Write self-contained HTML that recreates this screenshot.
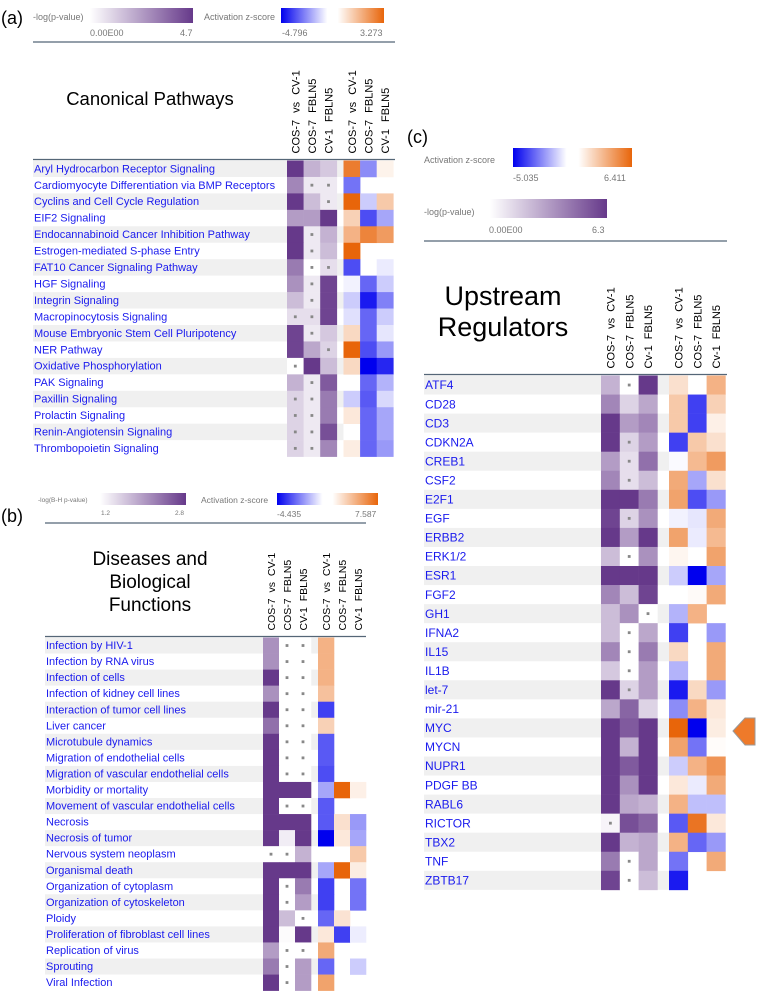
<!DOCTYPE html>
<html><head><meta charset="utf-8"><style>
html,body{margin:0;padding:0;background:#fff;}
svg{display:block;font-family:"Liberation Sans",sans-serif;}
</style></head><body>
<svg id="fig" width="760" height="992" viewBox="0 0 760 992" xmlns="http://www.w3.org/2000/svg">
<defs>
<linearGradient id="gp" x1="0" x2="1"><stop offset="0" stop-color="#fff"/><stop offset="1" stop-color="#66398a"/></linearGradient>
<linearGradient id="gz" x1="0" x2="1"><stop offset="0" stop-color="#0000ee"/><stop offset="0.45" stop-color="#fff"/><stop offset="0.55" stop-color="#fff"/><stop offset="1" stop-color="#e8650a"/></linearGradient>
</defs>
<text x="1" y="24" font-size="18">(a)</text>
<text x="1" y="522" font-size="18">(b)</text>
<text x="407" y="143" font-size="18">(c)</text>

<g font-size="9" fill="#777">
<text x="33" y="20">-log(p-value)</text>
<rect x="90" y="8" width="103" height="15" fill="url(#gp)"/>
<text x="90" y="36">0.00E00</text><text x="180" y="36">4.7</text>
<text x="204" y="20">Activation z-score</text>
<rect x="281" y="8" width="103" height="15" fill="url(#gz)"/>
<text x="282" y="36">-4.796</text><text x="360" y="36">3.273</text>
<line x1="33" y1="42" x2="395" y2="42" stroke="#556677" stroke-width="1.2"/>
</g>
<text x="150" y="105" font-size="18.5" text-anchor="middle">Canonical Pathways</text>

<g font-size="6.5" fill="#777">
<text x="38" y="502">-log(B-H p-value)</text>
<rect x="100" y="493" width="86" height="12" fill="url(#gp)"/>
<text x="101" y="515">1.2</text><text x="175" y="515">2.8</text>
<text x="201" y="503" font-size="8.5">Activation z-score</text>
<rect x="277" y="493" width="101" height="12" fill="url(#gz)"/>
<text x="277" y="517" font-size="8.5">-4.435</text><text x="355" y="517" font-size="8.5">7.587</text>
<line x1="45" y1="523" x2="366" y2="523" stroke="#556677" stroke-width="1.2"/>
</g>
<g font-size="19" text-anchor="middle">
<text x="150" y="565">Diseases and</text><text x="150" y="588">Biological</text><text x="150" y="611">Functions</text>
</g>

<g font-size="9" fill="#777">
<text x="424" y="163">Activation z-score</text>
<rect x="513" y="148" width="119" height="19" fill="url(#gz)"/>
<text x="513" y="181">-5.035</text><text x="604" y="181">6.411</text>
<text x="424" y="215">-log(p-value)</text>
<rect x="490" y="199" width="117" height="19" fill="url(#gp)"/>
<text x="489" y="233">0.00E00</text><text x="592" y="233">6.3</text>
<line x1="424" y1="241" x2="727" y2="241" stroke="#556677" stroke-width="1.2"/>
</g>
<g font-size="27" text-anchor="middle">
<text x="503" y="305">Upstream</text><text x="503" y="336">Regulators</text>
</g>

<polygon points="733,731 745,718 755,718 755,745 745,745" fill="#ee7a2a" stroke="#999" stroke-width="1"/>
<g id="panels"></g>
</svg>
<script>
const aRows = ["Aryl Hydrocarbon Receptor Signaling","Cardiomyocyte Differentiation via BMP Receptors","Cyclins and Cell Cycle Regulation","EIF2 Signaling","Endocannabinoid Cancer Inhibition Pathway","Estrogen-mediated S-phase Entry","FAT10 Cancer Signaling Pathway","HGF Signaling","Integrin Signaling","Macropinocytosis Signaling","Mouse Embryonic Stem Cell Pluripotency","NER Pathway","Oxidative Phosphorylation","PAK Signaling","Paxillin Signaling","Prolactin Signaling","Renin-Angiotensin Signaling","Thrombopoietin Signaling"];
const aCols = ["COS-7 vs CV-1","COS-7 FBLN5","CV-1 FBLN5"];
const aP1 = [0.9,0.55,0.9,0.45,0.9,0.9,0.6,0.5,0.3,0.15,0.85,0.85,0,0.35,0.2,0.2,0.2,0.2];
const aP2 = [0.35,0.1,0.3,0.45,0.1,0.1,0,0.1,0.1,0.15,0.1,0.4,0.9,0.1,0.1,0.1,0.1,0.1];
const aP3 = [0.25,0.1,0.1,0.9,0.35,0.3,0.15,0.85,0.85,0.85,0.25,0.2,0.3,0.75,0.6,0.6,0.8,0.55];
const aDots = ["000","011","001","000","010","010","011","010","010","110","010","001","100","010","110","110","110","110"];
const aZ1 = [0.85,-0.55,1,0.3,0.5,1,-0.7,-0.05,-0.2,-0.12,0.25,1,0.25,null,-0.2,0.15,null,0.12];
const aZ2 = [-0.45,null,-0.2,-0.7,0.8,null,null,-0.6,-0.9,-0.6,-0.6,-0.7,-1,-0.6,-0.65,-0.6,-0.6,-0.6];
const aZ3 = [0.08,null,0.35,-0.35,0.65,null,-0.08,-0.2,-0.5,-0.2,-0.1,-0.4,-0.85,-0.3,-0.15,-0.35,-0.35,-0.4];

const bRows = ["Infection by HIV-1","Infection by RNA virus","Infection of cells","Infection of kidney cell lines","Interaction of tumor cell lines","Liver cancer","Microtubule dynamics","Migration of endothelial cells","Migration of vascular endothelial cells","Morbidity or mortality","Movement of vascular endothelial cells","Necrosis","Necrosis of tumor","Nervous system neoplasm","Organismal death","Organization of cytoplasm","Organization of cytoskeleton","Ploidy","Proliferation of fibroblast cell lines","Replication of virus","Sprouting","Viral Infection"];
const bCols = ["COS-7 vs CV-1","COS-7 FBLN5","CV-1 FBLN5"];
const bP1 = [0.5,0.5,0.9,0.5,0.9,0.65,0.9,0.9,0.9,0.9,0.9,0.9,0.9,0,0.9,0.9,0.9,0.9,0.9,0.45,0.6,0.9];
const bP2 = [0,0,0,0,0,0,0,0,0,0.9,0,0.9,0.08,0,0.9,0,0,0.3,0.02,0,0,0];
const bP3 = [0,0,0,0,0,0,0,0,0,0.9,0,0.9,0.9,0.35,0.9,0.6,0.45,0,0.9,0,0.45,0.45];
const bDots = ["011","011","011","011","011","011","011","011","011","000","011","000","000","110","000","010","010","001","000","011","010","010"];
const bZ1 = [0.5,0.5,0.5,0.4,-0.75,0.3,-0.65,-0.65,-0.7,-0.35,-0.65,-0.65,-1,null,-0.35,-0.75,-0.75,-0.6,0.15,0.55,-0.6,0.6];
const bZ2 = [null,null,null,null,null,null,null,null,null,1,null,0.2,0.15,null,1,null,null,0.18,-0.75,null,null,null];
const bZ3 = [null,null,null,null,null,null,null,null,null,0.1,null,-0.4,-0.35,0.35,0.12,-0.55,-0.55,null,-0.07,null,-0.2,null];

const cRows = ["ATF4","CD28","CD3","CDKN2A","CREB1","CSF2","E2F1","EGF","ERBB2","ERK1/2","ESR1","FGF2","GH1","IFNA2","IL15","IL1B","let-7","mir-21","MYC","MYCN","NUPR1","PDGF BB","RABL6","RICTOR","TBX2","TNF","ZBTB17"];
const cCols = ["COS-7 vs CV-1","COS-7 FBLN5","Cv-1 FBLN5"];
const cP1 = [0.35,0.55,0.9,0.9,0.45,0.55,0.9,0.85,0.9,0.3,0.9,0.55,0.3,0.3,0.55,0.25,0.9,0.4,0.9,0.9,0.9,0.9,0.9,0.05,0.9,0.6,0.85];
const cP2 = [0,0.2,0.45,0.2,0.15,0.15,0.9,0.2,0.45,0,0.9,0.3,0.5,0,0,0,0.2,0.7,0.75,0.35,0.75,0.5,0.4,0.8,0.35,0,0];
const cP3 = [0.9,0.4,0.55,0.45,0.65,0.3,0.6,0.5,0.9,0.5,0.9,0.85,0,0.4,0.6,0.45,0.45,0.2,0.9,0.9,0.9,0.9,0.35,0.7,0.4,0.4,0.3];
const cDots = ["010","000","000","010","010","010","000","010","000","010","000","000","001","010","010","010","010","000","000","000","000","000","000","100","000","010","010"];
const cZ1 = [0.2,0.35,0.35,-0.75,-0.02,0.55,0.6,-0.05,0.6,0.06,-0.2,null,-0.3,-0.75,0.25,-0.3,-0.9,-0.45,1,0.6,-0.2,0.15,0.5,-0.65,0.5,-0.55,-0.9];
const cZ2 = [null,-0.75,-0.75,0.35,0.45,-0.35,-0.7,-0.1,-0.08,null,-1,0.03,0.5,null,null,null,0.25,0.5,-1,-0.55,0.5,-0.08,-0.25,0.9,-0.6,null,null];
const cZ3 = [0.5,0.3,0.1,0.2,0.65,0.2,-0.4,0.55,0.45,0.6,-0.35,0.55,null,-0.4,0.55,0.55,-0.4,0.15,0.12,0.02,0.7,0.55,-0.25,0.15,-0.4,0.55,null];

const NS = "http://www.w3.org/2000/svg";
function mix(a,b,t){return "rgb("+a.map((v,i)=>Math.round(v+(b[i]-v)*t)).join(",")+")";}
function pColor(v){return mix([255,255,255],[102,57,138],Math.min(1,v/0.9));}
function zColor(v){return v<0?mix([255,255,255],[0,0,238],-v):mix([255,255,255],[232,101,10],v);}
function el(tag,attrs,parent){const e=document.createElementNS(NS,tag);for(const k in attrs)e.setAttribute(k,attrs[k]);parent.appendChild(e);return e;}

function drawPanel(g, rows, cols, P, dots, Z, geo){
  const rowY = i => geo.top + i*geo.rh;
  const pX = j => geo.px + j*geo.cw;
  const zX = j => geo.zx + j*geo.cw;
  const hl = el('line',{x1:geo.lx,y1:geo.top-1,x2:geo.right,y2:geo.top-1,stroke:'#556677','stroke-width':1.3},g);
  
  
  cols.forEach((c,j)=>{
    [pX(j),zX(j)].forEach((x,k)=>{
      const t=el('text',{transform:`translate(${x+geo.cw/2+geo.fs*0.38},${geo.top-7}) rotate(-90)`,'font-size':geo.fs,'word-spacing':geo.ws},g);
      t.textContent=c;
      
      
    });
  });
  rows.forEach((r,i)=>{
    const y=rowY(i);
    if(i%2===0){
      const s=el('rect',{x:geo.lx,y:y,width:geo.px-geo.lx,height:geo.rh,fill:'#f0f0f0'},g);
      
      
      const s2=el('rect',{x:pX(3),y:y,width:geo.zx-pX(3),height:geo.rh,fill:'#f0f0f0'},g);
      
      
    }
    const t=el('text',{x:geo.lx+1,y:y+geo.rh*0.72,'font-size':geo.lfs,fill:'#1a1aee'},g);
    t.textContent=r;
    
    
    P.forEach((arr,j)=>{
      const v=arr[i];
      const c=el('rect',{x:pX(j),y:y,width:geo.cw+0.3,height:geo.rh+0.3,fill:pColor(v)},g);
      
      
      if(dots[i][j]==='1'){
        const d=el('rect',{x:pX(j)+geo.cw/2-1.4,y:y+geo.rh/2-1.4,width:2.8,height:2.8,fill:'#888'},g);
        
        
      }
    });
    Z.forEach((arr,j)=>{
      const v=arr[i];
      if(v===null)return;
      const c=el('rect',{x:zX(j),y:y,width:geo.cw+0.3,height:geo.rh+0.3,fill:zColor(v)},g);
      
      
    });
  });
}
const root=document.getElementById('panels');
const ga=el('g',{},root);
drawPanel(ga,aRows,aCols,[aP1,aP2,aP3],aDots,[aZ1,aZ2,aZ3],{top:160.5,rh:16.45,lx:33,px:287,zx:343.5,cw:16.6,right:395,fs:11,lfs:11,ws:4});
const gb=el('g',{},root);
drawPanel(gb,bRows,bCols,[bP1,bP2,bP3],bDots,[bZ1,bZ2,bZ3],{top:637.5,rh:16.05,lx:45,px:263,zx:318,cw:16,right:366,fs:10.5,lfs:11,ws:3});
const gc=el('g',{},root);
drawPanel(gc,cRows,cCols,[cP1,cP2,cP3],cDots,[cZ1,cZ2,cZ3],{top:375.5,rh:19.05,lx:424,px:601,zx:669,cw:18.8,right:727,fs:11,lfs:12,ws:3});
</script>
</body></html>
